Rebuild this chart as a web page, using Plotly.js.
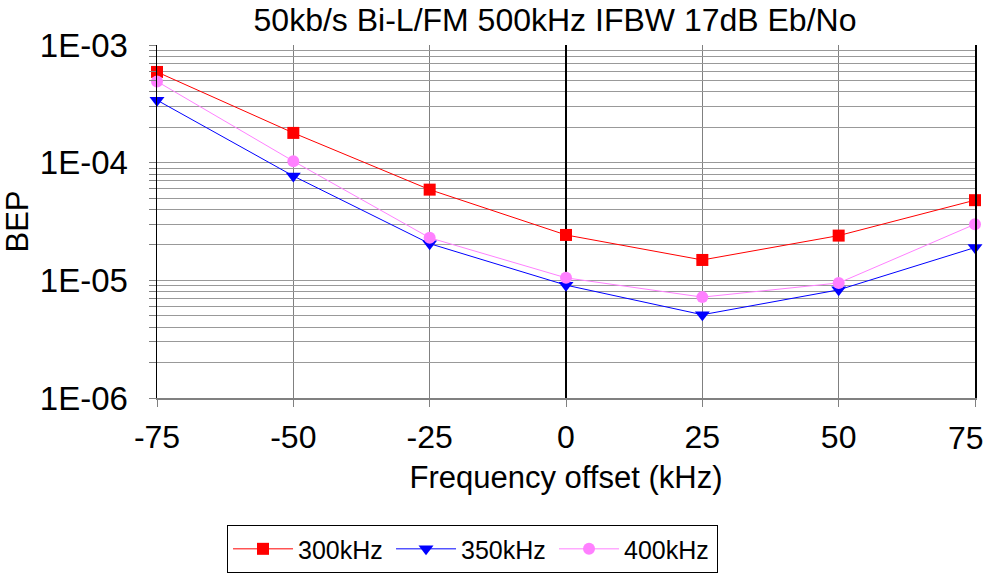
<!DOCTYPE html>
<html>
<head>
<meta charset="utf-8">
<script src="https://cdn.plot.ly/plotly-3.0.1.min.js"></script>
<style>html,body{margin:0;padding:0;background:#fff;}#chart{width:990px;height:588px;}</style>
</head>
<body>
<div id="chart"></div>
<script>
var freqOffset = [-75, -50, -25, 0, 25, 50, 75];
var bep300 = [5.9e-4, 1.79e-4, 5.9e-5, 2.43e-5, 1.49e-5, 2.4e-5, 4.8e-5];
var bep350 = [3.4e-4, 7.7e-5, 2.05e-5, 9.1e-6, 5.1e-6, 8.3e-6, 1.9e-5];
var bep400 = [4.9e-4, 1.03e-4, 2.3e-5, 1.05e-5, 7.2e-6, 9.5e-6, 3.0e-5];
var seriesNames = ['300kHz', '350kHz', '400kHz'];
var decadeTicks = [1e-6, 1e-5, 1e-4, 1e-3];
var decadeLabels = ['1E-06', '1E-05', '1E-04', '1E-03'];
var xTicks = [-75, -50, -25, 0, 25, 50, 75];

var yTickVals = [], yTickText = [];
for (var d = 0; d < decadeTicks.length; d++) {
  yTickVals.push(decadeTicks[d]); yTickText.push(decadeLabels[d]);
  if (d < decadeTicks.length - 1) {
    for (var m = 2; m <= 9; m++) { yTickVals.push(decadeTicks[d] * m); yTickText.push(''); }
  }
}
// last x tick label is drawn as an annotation pulled inside the canvas (as in the reference)
var lastX = xTicks[xTicks.length - 1];
var xTickText = xTicks.map(function (v, i) { return i === xTicks.length - 1 ? '' : String(v); });

var font = 'Liberation Sans, Arial, sans-serif';
var traces = [
  {x: freqOffset, y: bep300, name: seriesNames[0], mode: 'lines+markers',
   line: {color: '#ff0000', width: 1}, marker: {symbol: 'square', size: 12, color: '#ff0000'}, cliponaxis: false},
  {x: freqOffset, y: bep350, name: seriesNames[1], mode: 'lines+markers',
   line: {color: '#0000ff', width: 1}, marker: {symbol: 'triangle-down', size: 13, color: '#0000ff'}, cliponaxis: false},
  {x: freqOffset, y: bep400, name: seriesNames[2], mode: 'lines+markers',
   line: {color: '#ff80ff', width: 1}, marker: {symbol: 'circle', size: 12, color: '#ff80ff'}, cliponaxis: false}
];

var layout = {
  width: 990, height: 588,
  margin: {l: 157, r: 15, t: 45, b: 190},
  paper_bgcolor: '#ffffff', plot_bgcolor: '#ffffff',
  font: {family: font, color: '#000', size: 30},
  title: {text: '50kb/s Bi-L/FM 500kHz IFBW 17dB Eb/No', font: {family: font, size: 32, color: '#000'},
          x: 0.5606, xanchor: 'center', y: 0.966, yanchor: 'middle'},
  xaxis: {range: [-75, 75], tickvals: xTicks, ticktext: xTickText,
          showgrid: true, gridcolor: '#808080', gridwidth: 1,
          zeroline: true, zerolinecolor: '#000', zerolinewidth: 1.5,
          showline: true, linecolor: '#808080', linewidth: 1.5,
          ticks: 'outside', ticklen: 7, tickcolor: '#808080', ticklabelstandoff: 3,
          tickfont: {size: 32}, title: {text: 'Frequency offset (kHz)', font: {size: 31}, standoff: 12}},
  yaxis: {type: 'log', range: [-6, -3], tickvals: yTickVals, ticktext: yTickText,
          showgrid: true, gridcolor: '#999999', gridwidth: 1,
          showline: true, linecolor: '#000', linewidth: 1.5, mirror: true,
          ticks: 'outside', ticklen: 7, tickcolor: '#808080', ticklabelstandoff: 14,
          automargin: true,
          tickfont: {size: 33}, title: {text: 'BEP', font: {size: 31}, standoff: 6}},
  annotations: [{x: lastX, xref: 'x', y: 0, yref: 'paper', text: String(lastX), showarrow: false,
                 xanchor: 'right', yanchor: 'top', xshift: 11, yshift: -20, font: {size: 32, color: '#000'}}],
  showlegend: true,
  legend: {orientation: 'h', x: 0.0856, xanchor: 'left', y: -0.36, yanchor: 'top',
           bgcolor: '#fff', bordercolor: '#000', borderwidth: 1,
           font: {size: 25}, entrywidth: 88, entrywidthmode: 'pixels', itemwidth: 60}
};

Plotly.newPlot('chart', traces, layout, {displayModeBar: false, staticPlot: true});
</script>
</body>
</html>
